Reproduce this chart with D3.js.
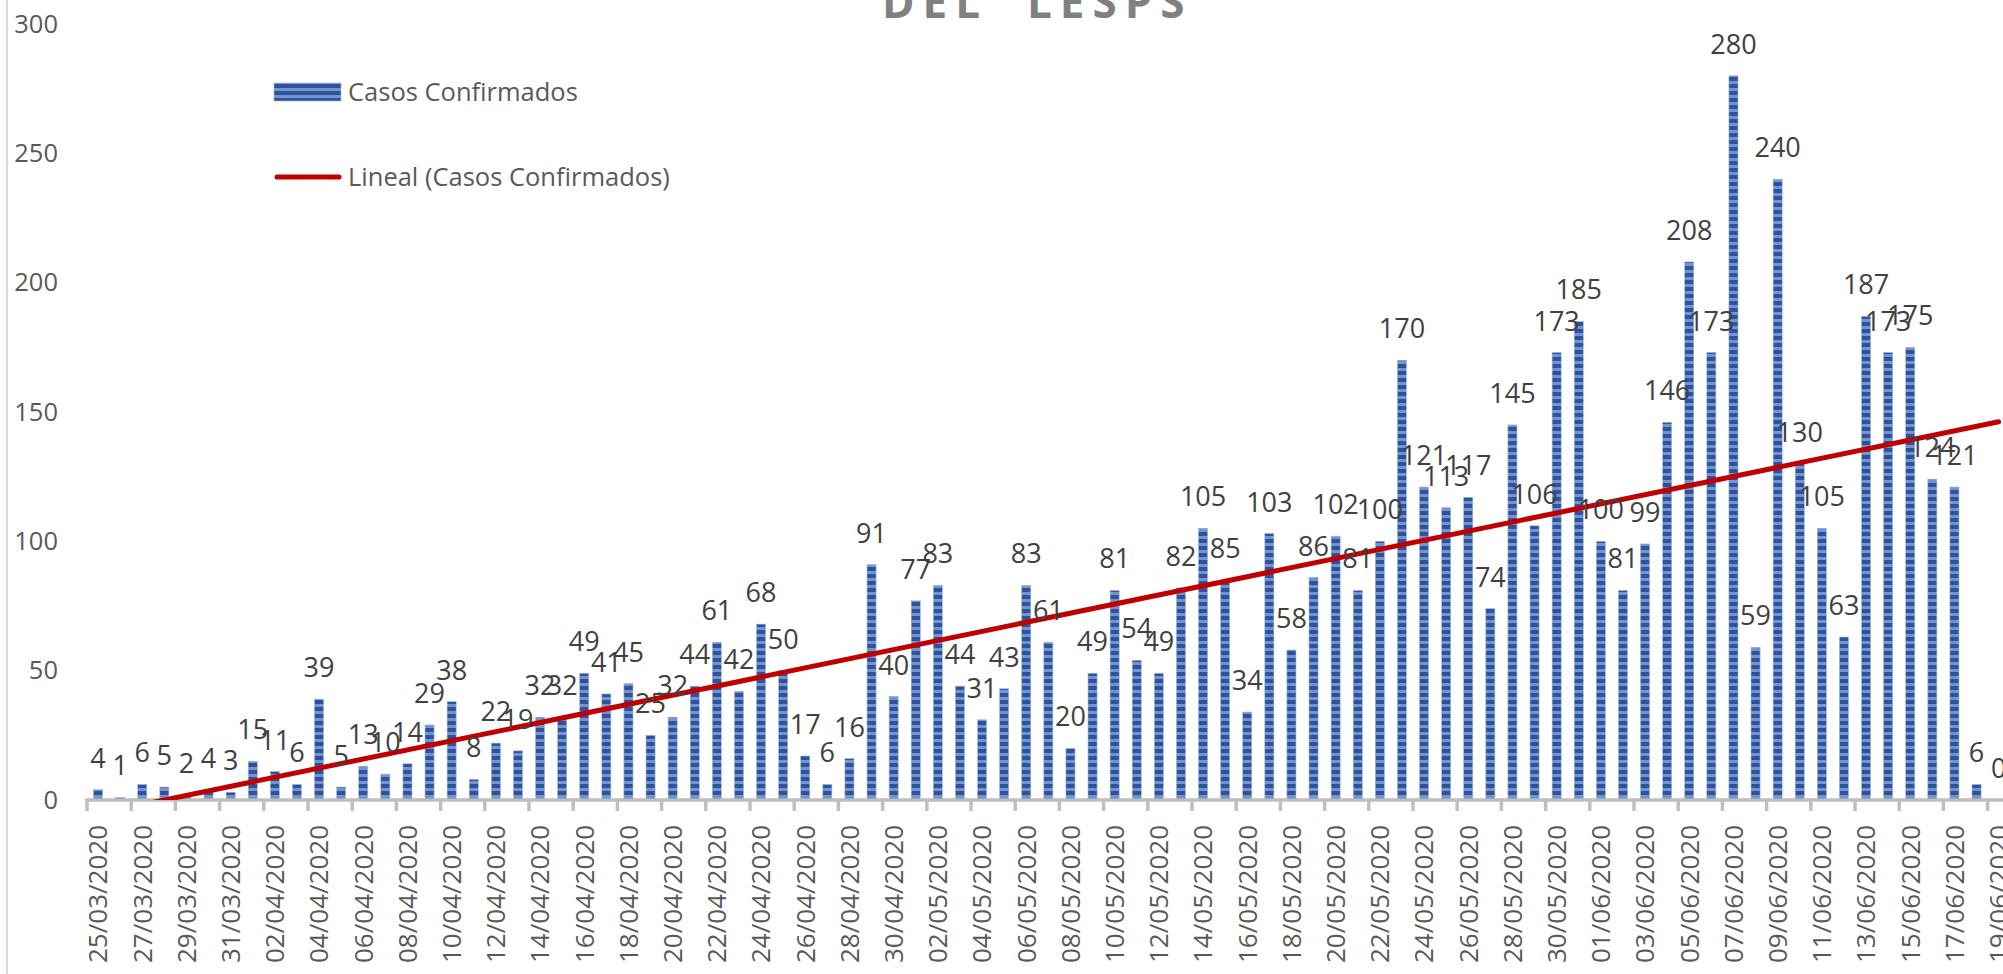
<!DOCTYPE html>
<html>
<head>
<meta charset="utf-8">
<script src="https://cdn.jsdelivr.net/npm/d3@7"></script>
<style>
  body { margin: 0; background: #fff; overflow: hidden; }
  text { font-family: "Open Sans", sans-serif; }
</style>
</head>
<body>
<svg id="chart" width="2003" height="974"></svg>
<script>
// fechas del 25/03/2020 al 19/06/2020
var fechas = ["25/03/2020", "26/03/2020", "27/03/2020", "28/03/2020", "29/03/2020",
  "30/03/2020", "31/03/2020", "01/04/2020", "02/04/2020", "03/04/2020",
  "04/04/2020", "05/04/2020", "06/04/2020", "07/04/2020", "08/04/2020",
  "09/04/2020", "10/04/2020", "11/04/2020", "12/04/2020", "13/04/2020",
  "14/04/2020", "15/04/2020", "16/04/2020", "17/04/2020", "18/04/2020",
  "19/04/2020", "20/04/2020", "21/04/2020", "22/04/2020", "23/04/2020",
  "24/04/2020", "25/04/2020", "26/04/2020", "27/04/2020", "28/04/2020",
  "29/04/2020", "30/04/2020", "01/05/2020", "02/05/2020", "03/05/2020",
  "04/05/2020", "05/05/2020", "06/05/2020", "07/05/2020", "08/05/2020",
  "09/05/2020", "10/05/2020", "11/05/2020", "12/05/2020", "13/05/2020",
  "14/05/2020", "15/05/2020", "16/05/2020", "17/05/2020", "18/05/2020",
  "19/05/2020", "20/05/2020", "21/05/2020", "22/05/2020", "23/05/2020",
  "24/05/2020", "25/05/2020", "26/05/2020", "27/05/2020", "28/05/2020",
  "29/05/2020", "30/05/2020", "31/05/2020", "01/06/2020", "02/06/2020",
  "03/06/2020", "04/06/2020", "05/06/2020", "06/06/2020", "07/06/2020",
  "08/06/2020", "09/06/2020", "10/06/2020", "11/06/2020", "12/06/2020",
  "13/06/2020", "14/06/2020", "15/06/2020", "16/06/2020", "17/06/2020",
  "18/06/2020", "19/06/2020"];

var casos = [4, 1, 6, 5, 2, 4, 3, 15, 11, 6,
  39, 5, 13, 10, 14, 29, 38, 8, 22, 19,
  32, 32, 49, 41, 45, 25, 32, 44, 61, 42,
  68, 50, 17, 6, 16, 91, 40, 77, 83, 44,
  31, 43, 83, 61, 20, 49, 81, 54, 49, 82,
  105, 85, 34, 103, 58, 86, 102, 81, 100, 170,
  121, 113, 117, 74, 145, 106, 173, 185, 100, 81,
  99, 146, 208, 173, 280, 59, 240, 130, 105, 63,
  187, 173, 175, 124, 121, 6, 0];

var yTicks = [0, 50, 100, 150, 200, 250, 300];
var serieNombre = "Casos Confirmados";
var tendenciaNombre = "Lineal (Casos Confirmados)";
var titulo = "DEL  LESPS";

var data = fechas.map(function (d, i) { return {fecha: d, valor: casos[i], i: i}; });

var svg = d3.select("#chart");

var x = d3.scaleBand()
  .domain(fechas)
  .range([87, 87 + 87 * 22.1])
  .paddingInner(0.59)
  .paddingOuter(0.295);

var y = d3.scaleLinear()
  .domain([0, 300])
  .range([800, 24]);

var step = x.step(), bw = x.bandwidth();
function centro(d) { return x(d) + bw / 2; }

// patron de rayas horizontales
var defs = svg.append("defs");
var pat = defs.append("pattern")
  .attr("id", "rayas")
  .attr("patternUnits", "userSpaceOnUse")
  .attr("width", 8).attr("height", 7);
pat.append("rect").attr("width", 8).attr("height", 7).attr("fill", "#7593cd");
pat.append("rect").attr("y", 0).attr("width", 8).attr("height", 4).attr("fill", "#2d539d");

defs.append("clipPath").attr("id", "area")
  .append("rect").attr("x", 0).attr("y", 0).attr("width", 2003).attr("height", y(0));

// borde izquierdo
svg.append("line")
  .attr("x1", 7).attr("x2", 7).attr("y1", 0).attr("y2", 974)
  .attr("stroke", "#d9d9d9").attr("stroke-width", 2);

// titulo (cortado arriba)
svg.append("text")
  .attr("x", 882).attr("y", 18)
  .attr("fill", "#808080")
  .style("font-size", "44px")
  .style("font-weight", "bold")
  .style("letter-spacing", "8px")
  .style("white-space", "pre")
  .text(titulo);

// eje y
var yAxis = d3.axisLeft(y).tickValues(yTicks).tickSize(0).tickPadding(0);
var gy = svg.append("g").attr("transform", "translate(58,0)").call(yAxis);
gy.select(".domain").remove();
gy.selectAll("text")
  .attr("fill", "#595959")
  .style("font-size", "25.5px")
  .style("font-family", "'Open Sans', sans-serif");

// barras
svg.selectAll("rect.bar")
  .data(data)
  .enter().append("rect")
  .attr("class", "bar")
  .attr("x", function (d) { return x(d.fecha); })
  .attr("y", function (d) { return y(d.valor); })
  .attr("width", bw)
  .attr("height", function (d) { return y(0) - y(d.valor); })
  .attr("fill", "url(#rayas)")
  .attr("stroke", "#9fb5e0")
  .attr("stroke-width", 0.6);

// eje x
svg.append("line")
  .attr("x1", 85).attr("x2", 2003)
  .attr("y1", y(0)).attr("y2", y(0))
  .attr("stroke", "#bfbfbf").attr("stroke-width", 3.5);

var pares = fechas.filter(function (d, i) { return i % 2 === 0; });
svg.selectAll("line.tick")
  .data(pares)
  .enter().append("line")
  .attr("class", "tick")
  .attr("x1", function (d) { return x(d) - (step - bw) / 2; })
  .attr("x2", function (d) { return x(d) - (step - bw) / 2; })
  .attr("y1", y(0)).attr("y2", y(0) + 11)
  .attr("stroke", "#bfbfbf").attr("stroke-width", 3.5);

svg.selectAll("text.fecha")
  .data(pares)
  .enter().append("text")
  .attr("class", "fecha")
  .attr("transform", function (d) { return "translate(" + centro(d) + ",825) rotate(-90)"; })
  .attr("text-anchor", "end")
  .attr("dy", "0.36em")
  .attr("fill", "#595959")
  .style("font-size", "26px")
  .text(function (d) { return d; });

// tendencia lineal (minimos cuadrados)
var xs = data.map(function (d) { return d.i + 1; });
var mx = d3.mean(xs), my = d3.mean(casos);
var sxy = d3.sum(data, function (d) { return (d.i + 1 - mx) * (d.valor - my); });
var sxx = d3.sum(xs, function (v) { return (v - mx) * (v - mx); });
var pend = sxy / sxx, inter = my - pend * mx;
var extremos = [data[0], data[data.length - 1]];
var linea = d3.line()
  .x(function (d) { return centro(d.fecha); })
  .y(function (d) { return y(inter + pend * (d.i + 1)); });
svg.append("path")
  .datum(extremos)
  .attr("d", linea)
  .attr("clip-path", "url(#area)")
  .attr("fill", "none")
  .attr("stroke", "#c00000")
  .attr("stroke-width", 5)
  .attr("stroke-linecap", "round");

// etiquetas de datos
svg.selectAll("text.etq")
  .data(data)
  .enter().append("text")
  .attr("class", "etq")
  .attr("x", function (d) { return centro(d.fecha); })
  .attr("y", function (d) { return y(d.valor) - 22; })
  .attr("text-anchor", "middle")
  .attr("fill", "#404040")
  .style("font-size", "27px")
  .text(function (d) { return d.valor; });

// leyenda
var ley = svg.append("g");
ley.append("rect")
  .attr("x", 274).attr("y", 83).attr("width", 67).attr("height", 18)
  .attr("fill", "url(#rayas)").attr("stroke", "#9fb5e0").attr("stroke-width", 0.6);
ley.append("text")
  .attr("x", 348).attr("y", 92).attr("dy", "0.35em")
  .attr("fill", "#595959").style("font-size", "25.5px")
  .text(serieNombre);
ley.append("line")
  .attr("x1", 277).attr("x2", 339).attr("y1", 177).attr("y2", 177)
  .attr("stroke", "#c00000").attr("stroke-width", 5).attr("stroke-linecap", "round");
ley.append("text")
  .attr("x", 348).attr("y", 177).attr("dy", "0.35em")
  .attr("fill", "#595959").style("font-size", "25.5px")
  .text(tendenciaNombre);
</script>
</body>
</html>
